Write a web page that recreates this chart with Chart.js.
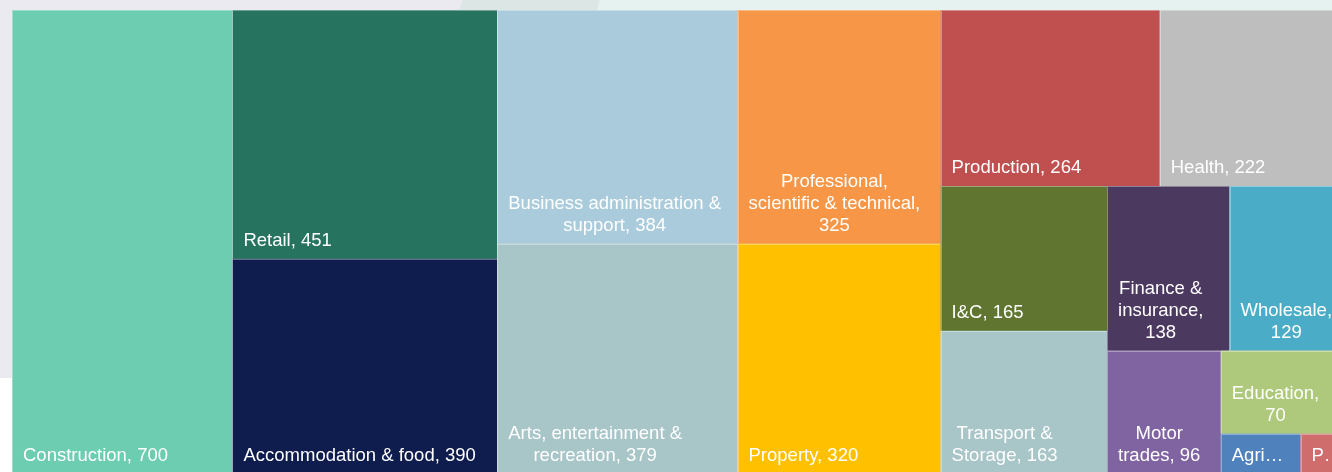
<!DOCTYPE html>
<html>
<head>
<meta charset="utf-8">
<script src="https://cdn.jsdelivr.net/npm/chart.js@4"></script>
<style>
html, body { margin: 0; padding: 0; overflow: hidden; width: 1332px; height: 472px; background: #ebeaf0; }
#wrap { position: absolute; left: 0; top: 0; width: 1346px; height: 476px; }
</style>
</head>
<body>
<div id="wrap"><canvas id="treemap"></canvas></div>
<script>
// businesses by industry
var categories = ['Construction', 'Retail', 'Accommodation & food', 'Business administration & support',
  'Arts, entertainment & recreation', 'Professional, scientific & technical', 'Property', 'Production',
  'Health', 'I&C', 'Transport & Storage', 'Finance & insurance', 'Wholesale', 'Motor trades',
  'Education', 'Agriculture, forestry & fishing', 'Public administration & defence'];
var counts = [700, 451, 390, 384, 379, 325, 320, 264, 222, 165, 163, 138, 129, 96, 70, 22, 12];
var colours = ['#6dcdb1', '#267360', '#0f1d4e', '#aacbdb', '#a8c5c8', '#f79646', '#ffc000', '#c0504f',
  '#bebebe', '#607530', '#a8c5c8', '#4b3960', '#4aacc6', '#8064a2', '#aec97b', '#4f81bd', '#cf6c6c'];

var FONT = '18.5px "Liberation Sans", Arial, sans-serif';

function worst(row, side) {
  var s = row.reduce(function(t, r) { return t + r.a; }, 0);
  var t = s / side;
  var w = 0;
  row.forEach(function(r) {
    var len = r.a / t;
    w = Math.max(w, t / len, len / t);
  });
  return w;
}

// squarified layout, x/y/w/h in the chart's own units
function squarify(items, x, y, w, h) {
  var out = [];
  var rest = items.slice();
  while (rest.length) {
    var vertical = w > h * 1.05;
    var side = vertical ? h : w;
    var row = [rest[0]];
    var k = 1;
    while (k < rest.length) {
      var next = row.concat([rest[k]]);
      if (worst(next, side) < worst(row, side) * 0.9) { row = next; k++; } else break;
    }
    var sum = row.reduce(function(t, r) { return t + r.a; }, 0);
    if (vertical) {
      var cw = sum / h, cy = y;
      row.forEach(function(r) { var ch = r.a / cw; out[r.i] = { x: x, y: cy, w: cw, h: ch }; cy += ch; });
      x += cw; w -= cw;
    } else {
      var rh = sum / w, cx = x;
      row.forEach(function(r) { var cw2 = r.a / rh; out[r.i] = { x: cx, y: y, w: cw2, h: rh }; cx += cw2; });
      y += rh; h -= rh;
    }
    rest = rest.slice(k);
  }
  return out;
}

function wrapText(ctx, text, maxW, maxLines) {
  var words = text.split(' ');
  var lines = [];
  var cur = '';
  words.forEach(function(wd) {
    var test = cur ? cur + ' ' + wd : wd;
    if (cur && ctx.measureText(test).width > maxW) { lines.push(cur); cur = wd; } else cur = test;
  });
  if (cur) lines.push(cur);
  var cut = lines.length > maxLines;
  lines = lines.slice(0, maxLines);
  lines = lines.map(function(l, idx) {
    var needDots = (cut && idx === lines.length - 1) || ctx.measureText(l).width > maxW;
    if (!needDots) return l;
    var s = l;
    while (s.length > 1 && ctx.measureText(s + '\u2026').width > maxW) s = s.slice(0, -1);
    return s + '\u2026';
  });
  return lines;
}

var backdrop = {
  id: 'backdrop',
  beforeDraw: function(chart) {
    var ctx = chart.ctx;
    ctx.save();
    ctx.fillStyle = '#ebeaf0';
    ctx.fillRect(0, 0, chart.width, chart.height);
    ctx.fillStyle = '#ffffff';
    ctx.fillRect(0, 378, 12, chart.height - 378);
    ctx.fillStyle = '#dbe6e5';
    ctx.beginPath();
    ctx.moveTo(463, 0); ctx.lineTo(600, 0); ctx.lineTo(597, 10); ctx.lineTo(459, 10); ctx.closePath();
    ctx.fill();
    ctx.fillStyle = '#e6f2f0';
    ctx.beginPath();
    ctx.moveTo(600, 0); ctx.lineTo(chart.width, 0); ctx.lineTo(chart.width, 10); ctx.lineTo(597, 10); ctx.closePath();
    ctx.fill();
    ctx.restore();
  }
};

var treemap = {
  id: 'treemap',
  beforeDatasetsDraw: function(chart) {
    var ctx = chart.ctx;
    var xs = chart.scales.x, ys = chart.scales.y;
    var area = chart.chartArea;
    var ratio = (area.right - area.left) / (area.bottom - area.top);
    var total = counts.reduce(function(t, v) { return t + v; }, 0);
    var items = counts.map(function(v, i) { return { i: i, a: v / total * ratio }; });
    var cells = squarify(items, 0, 0, ratio, 1);
    ctx.save();
    cells.forEach(function(c, i) {
      var x0 = xs.getPixelForValue(c.x / ratio), x1 = xs.getPixelForValue((c.x + c.w) / ratio);
      var y0 = ys.getPixelForValue(c.y), y1 = ys.getPixelForValue(c.y + c.h);
      ctx.fillStyle = colours[i];
      ctx.fillRect(x0, y0, x1 - x0, y1 - y0);
      ctx.strokeStyle = 'rgba(255,255,255,0.35)';
      ctx.lineWidth = 1;
      ctx.strokeRect(Math.round(x0) + 0.5, Math.round(y0) + 0.5, Math.round(x1 - x0), Math.round(y1 - y0));

      ctx.font = FONT;
      ctx.fillStyle = '#ffffff';
      ctx.textAlign = 'center';
      ctx.textBaseline = 'alphabetic';
      var maxLines = Math.max(1, Math.floor((y1 - y0 - 10) / 22));
      var lines = wrapText(ctx, categories[i] + ', ' + counts[i], x1 - x0 - 22, maxLines);
      var blockW = Math.max.apply(null, lines.map(function(l) { return ctx.measureText(l).width; }));
      var cx = x0 + 11 + blockW / 2;
      lines.forEach(function(l, n) {
        ctx.fillText(l, cx, y1 - 13 - (lines.length - 1 - n) * 22);
      });
    });
    ctx.restore();
  }
};

new Chart(document.getElementById('treemap'), {
  type: 'scatter',
  data: { datasets: [{ data: [] }] },
  options: {
    responsive: true,
    maintainAspectRatio: false,
    animation: false,
    layout: { padding: { left: 12, top: 10, right: 2, bottom: 2 } },
    scales: {
      x: { type: 'linear', min: 0, max: 1, display: false },
      y: { type: 'linear', min: 0, max: 1, reverse: true, display: false }
    },
    plugins: { legend: { display: false }, tooltip: { enabled: false } }
  },
  plugins: [backdrop, treemap]
});
</script>
</body>
</html>
